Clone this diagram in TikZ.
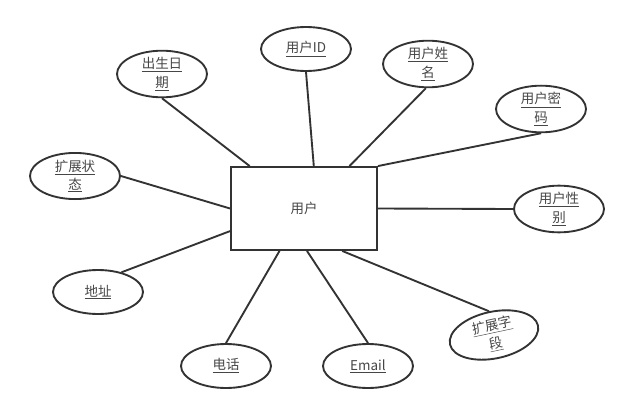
\documentclass[tikz,border=0pt]{standalone}
\usepackage{fontspec}
\newfontfamily\cjk{Noto Sans CJK SC}
\usepackage{tikz}
\usetikzlibrary{shapes.geometric}
\definecolor{erline}{RGB}{51,51,51}
\definecolor{ertext}{RGB}{70,70,70}

\begin{document}
\begin{tikzpicture}[x=0.03cm, y=-0.03cm,
      attr/.style={ellipse, draw=erline, line width=1.6pt, minimum width=2.7cm, minimum height=1.32cm,
        inner sep=0pt, align=center, text=ertext, font=\cjk\fontsize{11.5}{15.5}\selectfont},
      ent/.style={draw=erline, line width=1.6pt, minimum width=4.38cm, minimum height=2.49cm,
        text=ertext, font=\cjk\fontsize{11.5}{15.5}\selectfont},
      link/.style={draw=erline, line width=1.6pt}]
    \useasboundingbox (0,0) rectangle (634,417);
    \node[ent] (user) at (304,208.5) {用户};
    \node[attr] (birth) at (162,74) {\underline{出生日}\\\underline{期}};
    \node[attr] (uid) at (306,49) {\underline{用户ID}};
    \node[attr] (uname) at (428,64) {\underline{用户姓}\\\underline{名}};
    \node[attr] (upwd) at (541,109) {\underline{用户密}\\\underline{码}};
    \node[attr] (usex) at (559,209) {\underline{用户性}\\\underline{别}};
    \node[attr] (extstate) at (75,176) {\underline{扩展状}\\\underline{态}};
    \node[attr] (addr) at (98,292) {\underline{地址}};
    \node[attr] (phone) at (226,366) {\underline{电话}};
    \node[attr] (email) at (368,366) {\underline{Email}};
    \node[attr, rotate=12] (extfield) at (494,335) {\underline{扩展字}\\\underline{段}};
    % attribute links
    \draw[link] (user.142) -- (birth.south);
    \draw[link] (user.77) -- (uid.south);
    \draw[link] (user.43) -- (uname.265);
    \draw[link] (user.north east) -- (upwd.south);
    \draw[link] (user.east) -- (usex.west);
    \draw[link] (user.west) -- (extstate.east);
    \draw[link] (user.197) -- (addr.40);
    \draw[link] (user.240) -- (phone.north);
    \draw[link] (user.274) -- (email.north);
    \draw[link] (user.312) -- (extfield.north);
  \end{tikzpicture}
\end{document}
